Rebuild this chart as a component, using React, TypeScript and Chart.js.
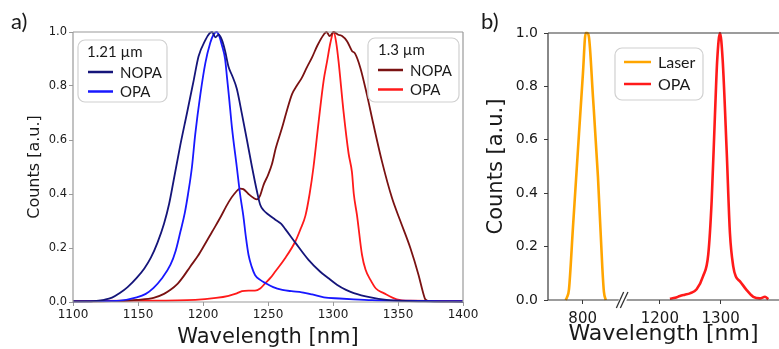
import React, { useEffect, useRef } from "react";
import { Chart, registerables } from "chart.js";
Chart.register(...registerables);

const AXIS_FONT = "'DejaVu Sans', sans-serif";
const LABEL_FONT = "Lato, 'Open Sans', sans-serif";

// ---------- Panel a data ----------
const nopa121Wl = [1100, 1110, 1118, 1124, 1130, 1136, 1142, 1149, 1155, 1160, 1165, 1170, 1174, 1177.4, 1182.5, 1187.7, 1192.8, 1196.6, 1201.8, 1205, 1207, 1209.5, 1212, 1214.6, 1217, 1219.7, 1222.3, 1226, 1230, 1233.8, 1237.7, 1241.5, 1244, 1246.6, 1250, 1255.6, 1260, 1263.3, 1271, 1281, 1290, 1296, 1303, 1310, 1316, 1329, 1341, 1355, 1370, 1400];
const nopa121Counts = [0.002, 0.002, 0.004, 0.008, 0.016, 0.033, 0.055, 0.089, 0.125, 0.165, 0.22, 0.29, 0.365, 0.45, 0.58, 0.7, 0.82, 0.91, 0.97, 0.995, 1.0, 0.98, 0.99, 0.97, 0.93, 0.87, 0.84, 0.79, 0.695, 0.6, 0.5, 0.41, 0.36, 0.34, 0.325, 0.305, 0.29, 0.27, 0.22, 0.157, 0.113, 0.09, 0.064, 0.045, 0.033, 0.017, 0.008, 0.004, 0.002, 0.001];

const opa121Wl = [1100, 1120, 1136, 1149, 1156, 1162, 1168, 1175, 1179, 1182.6, 1186, 1188.5, 1191.5, 1194, 1198, 1201.8, 1205.6, 1208, 1210.5, 1212.5, 1214.6, 1217, 1218.5, 1220, 1222.3, 1226, 1228.5, 1231, 1233, 1235, 1237.5, 1240, 1244, 1248, 1254, 1261, 1268, 1276, 1284, 1293, 1305, 1316, 1330, 1350, 1400];
const opa121Counts = [0.002, 0.003, 0.005, 0.017, 0.03, 0.052, 0.085, 0.138, 0.19, 0.26, 0.33, 0.4, 0.5, 0.62, 0.77, 0.885, 0.96, 0.99, 1.0, 0.985, 0.95, 0.9, 0.83, 0.76, 0.645, 0.5, 0.4, 0.32, 0.24, 0.175, 0.13, 0.1, 0.082, 0.07, 0.055, 0.045, 0.04, 0.036, 0.028, 0.017, 0.013, 0.01, 0.007, 0.005, 0.003];

const nopa13Wl = [1100, 1130, 1149, 1162, 1170, 1175, 1180, 1185, 1190, 1196, 1201, 1207, 1213, 1219.7, 1224, 1228.7, 1231, 1235, 1239, 1241.5, 1244, 1246.6, 1250, 1253, 1256, 1260.8, 1264, 1268.5, 1272, 1276, 1280, 1283.8, 1288, 1292.8, 1295, 1297.5, 1300.5, 1304, 1307, 1310.8, 1314.6, 1317, 1321, 1326, 1331, 1337.7, 1345.4, 1351.8, 1359.5, 1365.8, 1369, 1371, 1374, 1400];
const nopa13Counts = [0.002, 0.003, 0.008, 0.015, 0.03, 0.045, 0.065, 0.095, 0.13, 0.17, 0.21, 0.26, 0.31, 0.37, 0.4, 0.42, 0.418, 0.4, 0.385, 0.38, 0.395, 0.434, 0.47, 0.51, 0.57, 0.645, 0.7, 0.77, 0.8, 0.83, 0.87, 0.905, 0.95, 0.99, 1.0, 0.985, 1.0, 0.99, 0.985, 0.966, 0.93, 0.92, 0.868, 0.77, 0.66, 0.52, 0.385, 0.3, 0.2, 0.1, 0.04, 0.01, 0.003, 0.002];

const opa13Wl = [1100, 1150, 1194, 1210, 1219.7, 1226, 1230, 1235, 1240, 1244, 1248, 1252, 1255.6, 1263.3, 1271, 1275, 1278.8, 1282, 1285, 1289, 1292.8, 1295.4, 1298, 1300.5, 1302.5, 1304.3, 1308, 1312, 1314.6, 1316, 1318.5, 1322.3, 1325, 1328.7, 1333, 1339, 1349, 1360, 1400];
const opa13Counts = [0.003, 0.005, 0.008, 0.015, 0.023, 0.032, 0.04, 0.042, 0.042, 0.05, 0.07, 0.09, 0.113, 0.163, 0.224, 0.27, 0.32, 0.4, 0.5, 0.67, 0.82, 0.89, 0.96, 1.0, 0.96, 0.89, 0.71, 0.55, 0.48, 0.4, 0.32, 0.175, 0.12, 0.083, 0.05, 0.033, 0.01, 0.005, 0.004];

const panelAXTicks = [1100, 1150, 1200, 1250, 1300, 1350, 1400];
const countTicks = [0, 0.2, 0.4, 0.6, 0.8, 1.0];
const legendTitleA1 = "1.21 µm";
const legendTitleA2 = "1.3 µm";

// ---------- Panel b data ----------
const laserWl = [772, 774.2, 777.5, 784, 792.2, 800.5, 805, 807.2, 810, 817, 825.2, 832.4, 835, 838];
const laserCounts = [0, 0.01, 0.04, 0.27, 0.56, 0.85, 1.0, 1.0, 0.99, 0.76, 0.46, 0.12, 0.03, 0];
const opaBWl = [1216.5, 1225, 1233, 1241, 1249.4, 1260.5, 1271.3, 1279.6, 1285.2, 1290.6, 1294.4, 1298.9, 1303.3, 1309.9, 1315.3, 1320.8, 1325.2, 1331.8, 1342.8, 1353.7, 1364.7, 1373, 1378.4];
const opaBCounts = [0.005, 0.008, 0.015, 0.02, 0.025, 0.04, 0.09, 0.17, 0.37, 0.69, 0.9, 1.0, 0.9, 0.56, 0.25, 0.125, 0.087, 0.07, 0.037, 0.012, 0.006, 0.012, 0.003];
const panelBXTicks = [800, 1200, 1300];
const axisBreakAt = 865;
const axisBreakGap = 273;
const panelBXMin = 743;
const panelBXMax = 1123;

const compress = (w: number) => (w > axisBreakAt ? w - axisBreakGap : w);
const expand = (c: number) => (c > axisBreakAt ? c + axisBreakGap : c);
const pts = (xs: number[], ys: number[]) => xs.map((x, i) => ({ x, y: ys[i] }));

// ---------- plugins ----------
const framePlugin = {
  id: "frame",
  afterDatasetsDraw(chart: any, _a: any, opts: any) {
    const { left, right, top, bottom } = chart.chartArea;
    const ctx = chart.ctx;
    ctx.save();
    ctx.strokeStyle = opts.color;
    ctx.lineWidth = opts.width;
    ctx.beginPath();
    const sides: string[] = opts.sides;
    if (sides.includes("top")) { ctx.moveTo(left, top); ctx.lineTo(right, top); }
    if (sides.includes("bottom")) { ctx.moveTo(left, bottom); ctx.lineTo(right, bottom); }
    if (sides.includes("left")) { ctx.moveTo(left, top); ctx.lineTo(left, bottom); }
    if (sides.includes("right")) { ctx.moveTo(right, top); ctx.lineTo(right, bottom); }
    ctx.stroke();
    ctx.restore();
  },
};

const boxLegendPlugin = {
  id: "boxLegends",
  afterDraw(chart: any, _a: any, opts: any) {
    const ctx = chart.ctx;
    for (const b of opts.boxes || []) {
      ctx.save();
      ctx.beginPath();
      ctx.roundRect(b.x, b.y, b.w, b.h, 7);
      ctx.fillStyle = "rgba(255,255,255,0.85)";
      ctx.fill();
      ctx.strokeStyle = "#d0d0d0";
      ctx.lineWidth = 1.2;
      ctx.stroke();
      ctx.font = `${b.fontSize}px ${LABEL_FONT}`;
      ctx.textBaseline = "middle";
      ctx.fillStyle = "#1a1a1a";
      if (b.title) ctx.fillText(b.title, b.titleX, b.titleY);
      b.datasets.forEach((di: number, k: number) => {
        const ds = chart.data.datasets[di];
        const y = b.rowY0 + k * b.rowStep;
        ctx.strokeStyle = ds.borderColor;
        ctx.lineWidth = 2.5;
        ctx.beginPath();
        ctx.moveTo(b.lineX, y);
        ctx.lineTo(b.lineX + b.lineLen, y);
        ctx.stroke();
        ctx.fillStyle = "#1a1a1a";
        ctx.fillText(ds.label, b.textX, y + 1);
      });
      ctx.restore();
    }
  },
};

const axisBreakPlugin = {
  id: "axisBreak",
  afterDraw(chart: any, _a: any, opts: any) {
    if (opts.value == null) return;
    const ctx = chart.ctx;
    const px = chart.scales.x.getPixelForValue(opts.value);
    const y = chart.chartArea.bottom;
    ctx.save();
    ctx.fillStyle = "#fff";
    ctx.beginPath();
    ctx.moveTo(px - 4.5, y + 3);
    ctx.lineTo(px + 3.5, y + 3);
    ctx.lineTo(px + 5.5, y - 3);
    ctx.lineTo(px - 2.5, y - 3);
    ctx.closePath();
    ctx.fill();
    ctx.strokeStyle = "#333";
    ctx.lineWidth = 1.3;
    ctx.beginPath();
    ctx.moveTo(px - 5.8, y + 8);
    ctx.lineTo(px + 1.5, y - 8);
    ctx.moveTo(px - 1.8, y + 8);
    ctx.lineTo(px + 5.8, y - 8);
    ctx.stroke();
    ctx.restore();
  },
};

function lineDs(label: string, color: string, data: any[], width: number) {
  return {
    label,
    data,
    borderColor: color,
    backgroundColor: color,
    borderWidth: width,
    pointRadius: 0,
    cubicInterpolationMode: "monotone",
    fill: false,
    clip: 4,
  };
}

function axisCommon(o: any) {
  return {
    type: "linear",
    min: o.min,
    max: o.max,
    afterBuildTicks: (s: any) => { s.ticks = o.ticks.map((v: number) => ({ value: v })); },
    ticks: {
      autoSkip: false,
      maxRotation: 0,
      color: "#1a1a1a",
      font: { family: AXIS_FONT, size: o.tickSize },
      padding: o.tickPad,
      callback: o.callback,
    },
    grid: { drawOnChartArea: false, drawTicks: true, tickLength: 4, color: o.gridColor, lineWidth: 1 },
    border: { display: false },
    title: {
      display: true,
      text: o.title,
      color: "#1a1a1a",
      font: { family: AXIS_FONT, size: o.titleSize, lineHeight: 1.1 },
      padding: o.titlePad,
    },
    afterFit: o.afterFit,
  };
}

function configA(): any {
  return {
    type: "line",
    data: {
      datasets: [
        lineDs("NOPA", "#15157a", pts(nopa121Wl, nopa121Counts), 1.8),
        lineDs("OPA", "#1818ff", pts(opa121Wl, opa121Counts), 1.8),
        lineDs("NOPA", "#7a1212", pts(nopa13Wl, nopa13Counts), 1.8),
        lineDs("OPA", "#ff1a1a", pts(opa13Wl, opa13Counts), 1.8),
      ],
    },
    options: {
      animation: false,
      responsive: false,
      devicePixelRatio: 1,
      layout: { padding: { left: 0, top: 32, right: 17, bottom: 0 } },
      plugins: {
        legend: { display: false },
        tooltip: { enabled: false },
        frame: { color: "#9a9a9a", width: 1.2, sides: ["top", "bottom", "left", "right"] },
        boxLegends: {
          boxes: [
            { x: 78, y: 40, w: 89, h: 62, fontSize: 15, title: legendTitleA1, titleX: 87, titleY: 52, datasets: [0, 1], rowY0: 72, rowStep: 19.5, lineX: 88, lineLen: 25, textX: 120 },
            { x: 368, y: 38, w: 91, h: 64, fontSize: 15, title: legendTitleA2, titleX: 378, titleY: 50, datasets: [2, 3], rowY0: 70, rowStep: 19.5, lineX: 378, lineLen: 25, textX: 410 },
          ],
        },
      },
      scales: {
        x: axisCommon({
          min: 1100, max: 1400, ticks: panelAXTicks, tickSize: 12, tickPad: 2, gridColor: "#9a9a9a",
          title: "Wavelength [nm]", titleSize: 21, titlePad: { top: 0, bottom: 0 },
          callback: (v: any) => String(v),
          afterFit: (s: any) => { s.height = 47; s.paddingLeft = 0; s.paddingRight = 0; },
        }),
        y: axisCommon({
          min: 0, max: 1, ticks: countTicks, tickSize: 11.5, tickPad: 2, gridColor: "#9a9a9a",
          title: "Counts [a.u.]", titleSize: 16, titlePad: { top: 26, bottom: 0 },
          callback: (v: any) => Number(v).toFixed(1),
          afterFit: (s: any) => { s.width = 73; s.paddingTop = 0; s.paddingBottom = 0; },
        }),
      },
    },
    plugins: [framePlugin, boxLegendPlugin],
  };
}

function configB(): any {
  return {
    type: "line",
    data: {
      datasets: [
        lineDs("Laser", "#ffa500", pts(laserWl.map(compress), laserCounts), 2.6),
        lineDs("OPA", "#ff1a1a", pts(opaBWl.map(compress), opaBCounts), 2.6),
      ],
    },
    options: {
      animation: false,
      responsive: false,
      devicePixelRatio: 1,
      layout: { padding: { left: 0, top: 33, right: 0, bottom: 0 } },
      plugins: {
        legend: { display: false },
        tooltip: { enabled: false },
        frame: { color: "#3a3a3a", width: 1.2, sides: ["top", "bottom", "left"] },
        axisBreak: { value: axisBreakAt },
        boxLegends: {
          boxes: [
            { x: 135, y: 48, w: 88, h: 52, fontSize: 16, title: null, datasets: [0, 1], rowY0: 62, rowStep: 22, lineX: 144, lineLen: 27, textX: 178 },
          ],
        },
      },
      scales: {
        x: axisCommon({
          min: panelBXMin, max: panelBXMax, ticks: panelBXTicks.map(compress), tickSize: 15, tickPad: 6, gridColor: "#3a3a3a",
          title: "Wavelength [nm]", titleSize: 22, titlePad: { top: 0, bottom: 3 },
          callback: (v: any) => String(Math.round(expand(Number(v)))),
          afterFit: (s: any) => { s.height = 49; s.paddingLeft = 0; s.paddingRight = 0; },
        }),
        y: axisCommon({
          min: 0, max: 1, ticks: countTicks, tickSize: 14, tickPad: 6, gridColor: "#3a3a3a",
          title: "Counts [a.u.]", titleSize: 21, titlePad: { top: 5, bottom: 0 },
          callback: (v: any) => Number(v).toFixed(1),
          afterFit: (s: any) => { s.width = 68; s.paddingTop = 0; s.paddingBottom = 0; },
        }),
      },
    },
    plugins: [framePlugin, boxLegendPlugin, axisBreakPlugin],
  };
}

function ChartCanvas({ makeConfig, left, width, height }: any) {
  const ref = useRef<HTMLCanvasElement>(null);
  useEffect(() => {
    const chart = new Chart(ref.current as HTMLCanvasElement, makeConfig());
    return () => chart.destroy();
  }, []);
  return (
    <canvas
      ref={ref}
      width={width}
      height={height}
      style={{ position: "absolute", left, top: 0, width, height }}
    />
  );
}

export default function App() {
  const labelStyle: any = {
    position: "absolute",
    fontFamily: LABEL_FONT,
    fontSize: 22,
    lineHeight: "22px",
    color: "#1a1a1a",
  };
  return (
    <div style={{ position: "fixed", left: 0, top: 0, width: 779, height: 349, background: "#fff", overflow: "hidden" }}>
      <ChartCanvas makeConfig={configA} left={0} width={480} height={349} />
      <ChartCanvas makeConfig={configB} left={480} width={299} height={349} />
      <span style={{ ...labelStyle, left: 11, top: 10 }}>a)</span>
      <span style={{ ...labelStyle, left: 481, top: 10 }}>b)</span>
    </div>
  );
}
